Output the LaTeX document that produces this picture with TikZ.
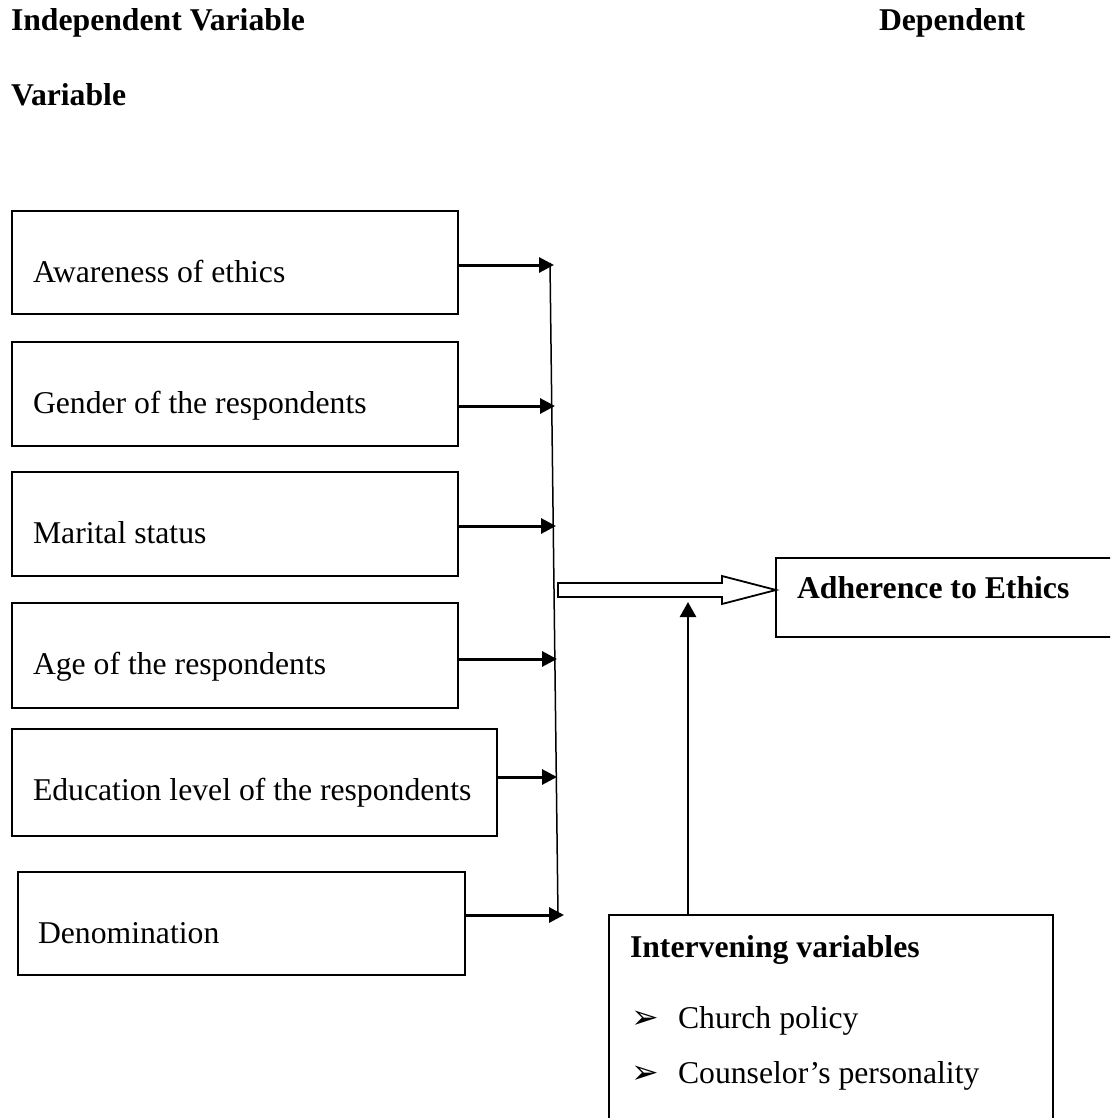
\documentclass[tikz,border=0pt]{standalone}
\usepackage{fontspec}
\setmainfont{Liberation Serif}
\newfontfamily\dingfont{DejaVu Sans}
\usetikzlibrary{arrows.meta}
\begin{document}
\begin{tikzpicture}[x=1pt,y=-1pt,
  box/.style={draw, line width=1.8pt, inner sep=0pt, outer sep=0pt, anchor=north west},
  lbl/.style={anchor=base west, inner sep=0pt, outer sep=0pt, font=\fontsize{31.7}{38}\selectfont},
  blbl/.style={anchor=base west, inner sep=0pt, outer sep=0pt, font=\fontsize{31.7}{38}\selectfont\bfseries},
  bul/.style={anchor=base west, inner sep=0pt, outer sep=0pt, font=\dingfont\fontsize{33}{38}\selectfont},
  arr/.style={line width=3pt, -{Triangle[length=15pt,width=15pt]}},
  varr/.style={line width=2.6pt, -{Triangle[length=15pt,width=16pt]}},
  hollow/.style={draw, line width=1.8pt, fill=white, line join=miter},
]
\useasboundingbox (0,0) rectangle (1110,1118);
\clip (0,0) rectangle (1110,1118);

% headers
\node[blbl] (h1) at (11,31) {Independent Variable};
\node[blbl] (h2) at (879,31) {Dependent};
\node[blbl] (h3) at (11,106) {Variable};

% independent variable boxes
\node[box, minimum width=446pt, minimum height=103pt] (b1) at (12,211) {};
\node[box, minimum width=446pt, minimum height=104pt] (b2) at (12,342) {};
\node[box, minimum width=446pt, minimum height=104pt] (b3) at (12,472) {};
\node[box, minimum width=446pt, minimum height=105pt] (b4) at (12,603) {};
\node[box, minimum width=485pt, minimum height=107pt] (b5) at (12,729) {};
\node[box, minimum width=447pt, minimum height=103pt] (b6) at (18,872) {};

\node[lbl] (t1) at (33,282) {Awareness of ethics};
\node[lbl] (t2) at (33,413) {Gender of the respondents};
\node[lbl] (t3) at (33,543) {Marital status};
\node[lbl] (t4) at (33,674) {Age of the respondents};
\node[lbl] (t5) at (33,800) {Education level of the respondents};
\node[lbl] (t6) at (38,943) {Denomination};

% collecting line
\coordinate (vtop) at (550,263);
\coordinate (vbot) at (558,916);
\draw[line width=1.5pt] (vtop) -- (vbot);

\coordinate (c1) at (554,265);
\coordinate (c2) at (555,406);
\coordinate (c3) at (556,526);
\coordinate (c4) at (557,659);
\coordinate (c5) at (557,777);
\coordinate (c6) at (564,915);
\draw[arr] (b1.east |- c1) -- (c1);
\draw[arr] (b2.east |- c2) -- (c2);
\draw[arr] (b3.east |- c3) -- (c3);
\draw[arr] (b4.east |- c4) -- (c4);
\draw[arr] (b5.east |- c5) -- (c5);
\draw[arr] (b6.east |- c6) -- (c6);

% dependent variable box
\node[box, minimum width=349pt, minimum height=79pt] (adh) at (776,558) {};
\node[blbl] (tadh) at (797,598) {Adherence to Ethics};

% hollow arrow
\draw[hollow] (558,583) -- (722,583) -- (722,576) -- (adh.west |- 0,590) -- (722,604) -- (722,597) -- (558,597) -- cycle;

% intervening variables box
\node[box, minimum width=444pt, minimum height=230pt] (iv) at (609,915) {};
\node[blbl] (tiv) at (630,957) {Intervening variables};
\node[bul] (bu1) at (631,1028) {➢};
\node[lbl] (ti1) at (678,1028) {Church policy};
\node[bul] (bu2) at (631,1083) {➢};
\node[lbl] (ti2) at (678,1083) {Counselor’s personality};

\coordinate (vtip) at (688,602);
\draw[varr] ([xshift=79pt]iv.north west) -- (vtip);
\end{tikzpicture}
\end{document}
